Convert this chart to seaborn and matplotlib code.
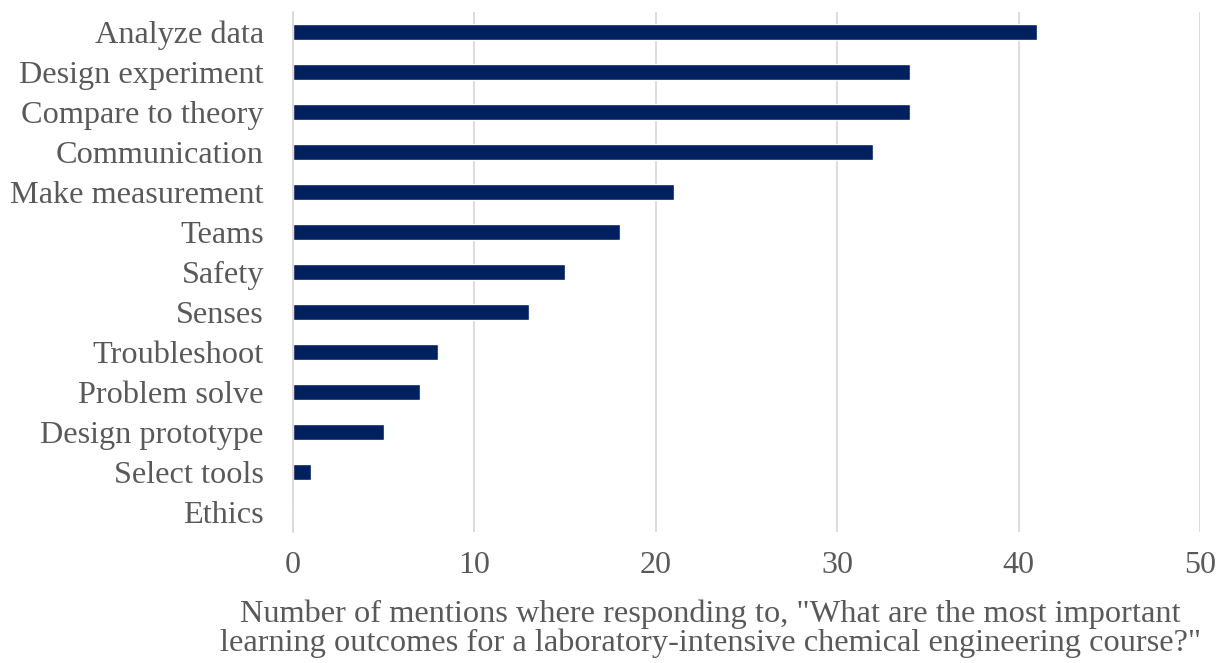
import matplotlib
matplotlib.use("Agg")
import matplotlib.pyplot as plt
import seaborn as sns
import pandas as pd

categories = ["Analyze data", "Design experiment", "Compare to theory", "Communication",
              "Make measurement", "Teams", "Safety", "Senses", "Troubleshoot",
              "Problem solve", "Design prototype", "Select tools", "Ethics"]
mentions = [41, 34, 34, 32, 21, 18, 15, 13, 8, 7, 5, 1, 0]
xticks = [0, 10, 20, 30, 40, 50]
xlabel = 'Number of mentions where responding to, "What are the most important\nlearning outcomes for a laboratory-intensive chemical engineering course?"'

sns.set_style("white")
plt.rcParams['font.family'] = ['Liberation Serif', 'DejaVu Serif']

df = pd.DataFrame({"category": categories, "mentions": mentions})

fig = plt.figure(figsize=(12.2, 6.63), dpi=100)
ax = fig.add_axes([293/1220, 1 - 532/663, (1200-293)/1220, (532-12)/663])

sns.barplot(data=df, x="mentions", y="category", order=categories, color="#002060",
            saturation=1, width=0.42, ax=ax, orient="h")

ax.set_xlim(0, 50)
ax.set_ylim(12.5, -0.5)
ax.set_xticks(xticks)
ax.xaxis.grid(True, color="#d9d9d9", linewidth=1.3)
ax.set_axisbelow(True)
for s in ["top", "right", "bottom"]:
    ax.spines[s].set_visible(False)
ax.spines["left"].set_color("#d9d9d9")
ax.spines["left"].set_linewidth(1.3)

ax.tick_params(axis="x", length=0, pad=14, labelsize=23, labelcolor="#595959")
ax.tick_params(axis="y", length=0, pad=21, labelsize=23.2, labelcolor="#595959")
ax.set_ylabel("")
ax.set_xlabel(xlabel, fontsize=23.3, color="#595959", linespacing=0.98)
ax.xaxis.set_label_coords(0.46, -0.13, transform=ax.transAxes)
ax.xaxis.label.set_va("top")

fig.savefig("out.png", dpi=100)
